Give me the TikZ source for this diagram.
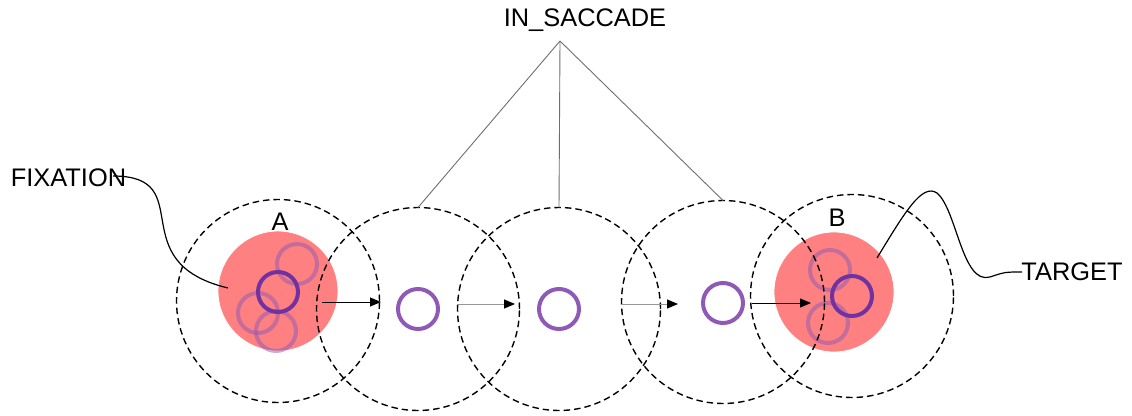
\documentclass[tikz,border=0pt]{standalone}
\usepackage{fontspec}
\setmainfont{Liberation Sans}
\usetikzlibrary{arrows.meta}
\definecolor{spotpink}{RGB}{255,128,128}
\definecolor{gazepurple}{RGB}{142,90,182}
\definecolor{gazedark}{RGB}{112,50,160}
\definecolor{leadgray}{RGB}{110,110,110}
\definecolor{steplight}{RGB}{150,150,150}
\begin{document}
\begin{tikzpicture}[x=1pt,y=-1pt,
  every node/.style={inner sep=0pt,outer sep=0pt},
  zone/.style={circle,draw=black,line width=1.4pt,dash pattern=on 6.5pt off 4pt,minimum size=203pt},
  spot/.style={circle,fill=spotpink,draw=white,line width=0.8pt,minimum size=120pt},
  gaze/.style={circle,draw=gazepurple,line width=4pt,minimum size=40pt},
  gazemain/.style={gaze,draw=gazedark},
  trace/.style={gaze,draw opacity=0.5},
  label/.style={font=\fontsize{25.4}{30}\selectfont},
  movearrow/.style={line width=1pt,-{Triangle[length=11pt,width=9pt,color=black]}},
  lead/.style={draw=leadgray,line width=0.9pt},
  callout/.style={line width=1.2pt}]
\useasboundingbox (0,0) rectangle (1132,415);

% fixation and target areas
\node[spot] (spotA) at (278,291) {};
\node[spot] (spotB) at (834,292) {};

% earlier gaze samples
\node[trace] (tA1) at (297,264) {};
\node[trace] (tA2) at (258,313) {};
\node[trace] (tA3) at (276,331) {};
\node[trace] (tB1) at (830,270) {};
\node[trace] (tB2) at (828,323) {};

% neighbourhoods of each gaze position
\node[zone] (c1) at (278,301) {};
\node[zone] (c2) at (418,309) {};
\node[zone] (c3) at (559,309) {};
\node[zone] (c4) at (723,302) {};
\node[zone] (c5) at (852,296) {};

% movement steps
\coordinate (e1) at (381,302);
\coordinate (s2) at (457,304);
\coordinate (e2) at (515,304);
\coordinate (s3) at (621,304);
\coordinate (e3) at (678,304);
\coordinate (e4) at (811,303);
\draw[movearrow] (322,302) -- (e1);
\draw[movearrow,draw=steplight] (s2) -- (e2);
\draw[movearrow,draw=steplight] (s3) -- (e3);
\draw[movearrow] (752,303) -- (e4);

% current gaze positions
\node[gazemain] (gA) at (278,292) {};
\node[gaze] (g2) at (418,309) {};
\node[gaze] (g3) at (559,309) {};
\node[gaze] (g4) at (723,303) {};
\node[gazemain] (gB) at (852,296) {};

% letters
\node[label] (lA) at (280,222) {A};
\node[label] (lB) at (837,218) {B};

% saccade label with its leaders
\node[label] (sacc) at (585,20) {IN\_SACCADE};
\coordinate (apex) at (560,41);
\draw[lead] (apex) -- (c2.north);
\draw[lead] (apex) -- (c3.north);
\draw[lead] (apex) -- (c4.north);

% fixation callout
\node[label] (fix) at (68.5,178) {FIXATION};
\coordinate (fixstart) at (113,176);
\coordinate (fixend) at (228,288);
\draw[callout] (fixstart) .. controls (200,176) and (120,262) .. (fixend);

% target callout
\node[label] (tgt) at (1072,272) {TARGET};
\coordinate (tgtstart) at (877,258);
\coordinate (tgtend) at (1022,272);
\draw[callout] (tgtstart) .. controls (905,212) and (922,183) .. (937,193)
  .. controls (957,210) and (962,285) .. (990,277)
  .. controls (1005,272) .. (tgtend);
\end{tikzpicture}
\end{document}
